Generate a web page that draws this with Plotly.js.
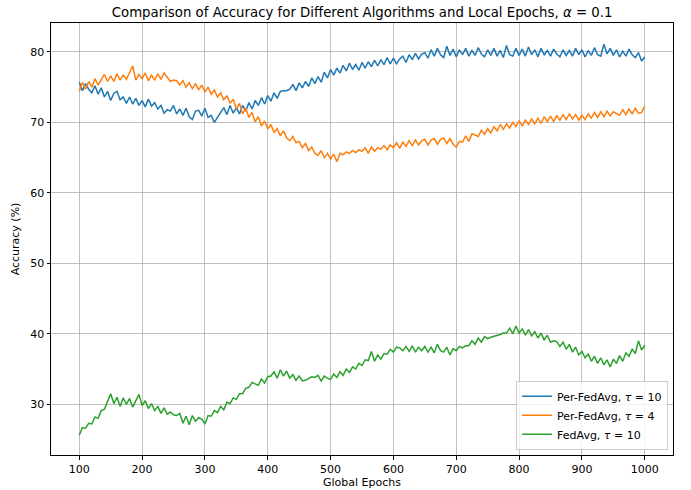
<!DOCTYPE html>
<html>
<head>
<meta charset="utf-8">
<script src="https://cdn.plot.ly/plotly-3.0.1.min.js"></script>
<style>html,body{margin:0;padding:0;background:#fff;}#chart{width:691px;height:490px;}</style>
</head>
<body>
<div id="chart"></div>
<script>
// Global epochs sampled every 5 epochs from 100 to 1000
const epochs = [];
for (let e = 100; e <= 1000; e += 5) epochs.push(e);

const perFedAvgTau10 = [
  75.7, 74.5, 75.5, 74.7, 74.2, 75.2, 74.0, 74.9, 73.6, 74.4,
  73.1, 74.1, 74.4, 73.2, 73.6, 72.7, 73.6, 72.6, 73.4, 72.4,
  73.1, 72.2, 73.3, 72.3, 72.8, 71.9, 72.4, 71.3, 71.8, 71.6,
  72.4, 71.2, 71.9, 71.0, 72.0, 70.8, 70.4, 71.6, 71.7, 70.9,
  72.0, 70.7, 71.0, 70.0, 70.7, 71.4, 72.1, 71.1, 72.4, 71.3,
  72.1, 71.2, 72.4, 71.6, 72.8, 71.9, 73.1, 72.4, 73.5, 72.6,
  73.8, 73.0, 74.2, 73.4, 74.4, 74.5, 74.5, 74.7, 75.4, 74.5,
  75.6, 74.9, 75.8, 75.1, 76.3, 75.5, 76.5, 75.7, 77.1, 76.3,
  77.5, 76.7, 77.7, 77.0, 78.1, 77.3, 78.4, 77.5, 78.2, 77.4,
  78.5, 77.7, 78.6, 77.9, 78.8, 78.0, 78.9, 78.2, 79.2, 78.3,
  79.1, 78.3, 79.0, 79.4, 78.5, 79.6, 78.9, 79.8, 79.0, 79.7,
  79.9, 79.1, 80.3, 79.4, 80.5, 79.6, 79.2, 80.8, 79.5, 80.4,
  79.3, 80.3, 79.6, 80.5, 79.4, 80.2, 79.5, 80.6, 79.7, 79.3,
  80.3, 79.5, 80.5, 79.4, 80.2, 79.2, 80.9, 79.6, 79.4, 80.5,
  79.5, 80.4, 79.4, 80.7, 79.6, 80.3, 79.3, 80.5, 79.6, 80.2,
  79.4, 80.4, 79.7, 79.3, 80.3, 79.5, 80.2, 79.4, 80.5, 79.6,
  80.3, 79.3, 80.2, 79.5, 80.6, 79.6, 79.4, 81.1, 79.7, 80.5,
  79.5, 80.3, 79.3, 80.1, 79.4, 80.4, 79.6, 79.2, 79.9, 78.7,
  79.3
];

const perFedAvgTau4 = [
  74.4, 75.7, 74.7, 75.8, 75.0, 76.2, 75.3, 76.1, 76.8, 75.8,
  76.6, 75.8, 76.9, 76.0, 76.7, 76.1, 77.0, 78.0, 76.0, 76.8,
  76.2, 77.0, 75.9, 76.7, 76.0, 76.9, 76.1, 77.0, 76.4, 75.8,
  76.0, 75.9, 75.3, 75.9, 75.0, 75.6, 74.8, 75.5, 74.6, 75.3,
  74.3, 75.0, 74.0, 74.6, 73.6, 74.2, 73.2, 73.8, 72.7, 73.3,
  71.9, 72.7, 71.2, 72.0, 70.7, 71.4, 70.1, 70.8, 69.5, 70.2,
  69.1, 69.7, 68.6, 69.1, 68.1, 68.8, 67.8, 67.4, 68.0, 67.1,
  67.3, 66.4, 67.0, 66.0, 66.5, 65.6, 65.3, 66.0, 65.0, 65.6,
  64.8, 65.5, 64.4, 65.6, 65.4, 65.8, 65.6, 66.0, 65.7, 66.1,
  65.9, 66.4, 65.6, 66.5, 65.9, 66.4, 66.2, 66.7, 66.1, 66.8,
  66.4, 67.1, 66.3, 67.2, 66.6, 67.4, 66.7, 67.5, 66.8, 67.4,
  67.6, 66.8, 67.5, 67.7, 66.9, 67.6, 67.8, 67.0, 67.7, 66.9,
  66.5, 67.3, 67.2, 68.1, 67.3, 68.4, 68.2, 68.0, 68.9, 68.3,
  69.1, 68.5, 69.4, 68.8, 69.7, 69.0, 69.8, 69.2, 70.0, 69.4,
  70.2, 69.5, 70.3, 69.7, 70.5, 69.8, 70.6, 69.9, 70.8, 70.1,
  70.9, 70.1, 71.0, 70.3, 71.1, 70.4, 71.2, 70.5, 71.1, 70.3,
  71.0, 70.4, 71.2, 70.6, 71.4, 70.7, 71.5, 70.8, 71.6, 70.9,
  71.5, 71.3, 71.0, 71.8, 71.1, 71.9, 71.2, 72.0, 71.3, 71.4,
  72.3
];

const fedAvgTau10 = [
  25.6, 26.7, 26.6, 27.3, 27.2, 28.2, 28.0, 29.1, 29.3, 30.5,
  31.5, 30.1, 31.0, 29.7, 30.9, 30.0, 30.8, 29.6, 30.6, 31.4,
  29.8, 30.5, 29.4, 30.1, 29.1, 29.7, 28.7, 29.5, 28.6, 28.9,
  28.5, 28.4, 28.7, 27.3, 28.3, 27.1, 28.4, 27.6, 28.1, 27.9,
  27.2, 28.4, 28.3, 29.1, 28.8, 29.7, 29.2, 30.3, 30.1, 30.9,
  30.7, 31.5, 31.5, 32.3, 32.4, 33.1, 32.9, 32.7, 33.6, 33.0,
  33.9, 34.0, 34.6, 33.7, 34.9, 34.0, 34.7, 33.7, 34.2, 33.4,
  34.0, 33.3, 33.4, 33.6, 33.9, 33.8, 34.1, 33.3, 34.0, 33.7,
  33.5, 34.3, 33.8, 34.6, 34.1, 35.0, 34.5, 35.3, 35.0, 35.8,
  35.5, 36.3, 36.2, 37.5, 36.1, 37.0, 36.4, 37.2, 37.1, 37.8,
  37.4, 38.1, 38.0, 37.6, 38.2, 37.5, 38.3, 37.4, 38.1, 37.6,
  38.2, 37.4, 38.1, 37.3, 38.5, 37.6, 37.4, 38.1, 37.0, 37.9,
  37.6, 38.2, 38.0, 38.3, 38.3, 39.0, 38.5, 39.4, 38.8, 39.6,
  39.3, 39.5, 39.6, 39.8, 39.9, 40.1, 40.1, 40.8, 40.0, 41.1,
  40.1, 40.7, 39.8, 40.6, 39.7, 40.3, 39.4, 40.1, 39.1, 39.8,
  38.8, 39.0, 38.9, 38.2, 38.8, 37.8, 38.5, 37.4, 38.1, 37.0,
  37.5, 36.6, 37.1, 36.1, 36.8, 35.8, 36.6, 35.6, 36.3, 35.3,
  36.4, 35.8, 36.9, 36.1, 37.3, 36.8, 37.8, 37.2, 39.0, 37.7,
  38.4
];

const seriesNames = ['Per-FedAvg, <i>τ</i> = 10', 'Per-FedAvg, <i>τ</i> = 4', 'FedAvg, <i>τ</i> = 10'];
const seriesColors = ['#1f77b4', '#ff7f0e', '#2ca02c'];
const xTicks = [100, 200, 300, 400, 500, 600, 700, 800, 900, 1000];
const yTicks = [30, 40, 50, 60, 70, 80];

const allSeries = [perFedAvgTau10, perFedAvgTau4, fedAvgTau10];
const traces = allSeries.map((ys, i) => ({
  x: epochs, y: ys, type: 'scatter', mode: 'lines',
  name: seriesNames[i],
  line: {color: seriesColors[i], width: 1.5}
}));

const font = {family: 'DejaVu Sans, sans-serif', size: 11, color: '#000'};
const layout = {
  width: 691, height: 490,
  margin: {l: 51, r: 18, t: 23, b: 35, pad: 0},
  paper_bgcolor: '#fff', plot_bgcolor: '#fff',
  font: font,
  showlegend: true,
  title: {text: 'Comparison of Accuracy for Different Algorithms and Local Epochs, <i>α</i> = 0.1',
          font: {family: 'DejaVu Sans, sans-serif', size: 13.3, color: '#000'},
          x: 0.524, xanchor: 'center', y: 0.975, yanchor: 'middle', yref: 'container'},
  xaxis: {
    range: [55, 1045], tickvals: xTicks, ticks: 'outside', ticklen: 3.5, tickwidth: 1, tickcolor: '#000',
    showline: true, mirror: true, linecolor: '#000', linewidth: 1,
    showgrid: true, gridcolor: '#b0b0b0', gridwidth: 0.8, zeroline: false,
    tickfont: font, automargin: false,
    title: {text: 'Global Epochs', font: font, standoff: 3}
  },
  yaxis: {
    range: [22.8, 84.1], tickvals: yTicks, ticks: 'outside', ticklen: 3.5, tickwidth: 1, tickcolor: '#000',
    showline: true, mirror: true, linecolor: '#000', linewidth: 1,
    showgrid: true, gridcolor: '#b0b0b0', gridwidth: 0.8, zeroline: false,
    tickfont: font, automargin: false,
    title: {text: 'Accuracy (%)', font: font, standoff: 8}
  },
  legend: {
    x: 0.992, y: 0.012, xanchor: 'right', yanchor: 'bottom',
    bgcolor: 'rgba(255,255,255,0.8)', bordercolor: '#cccccc', borderwidth: 1,
    font: font, tracegroupgap: 0, itemwidth: 30
  }
};

Plotly.newPlot('chart', traces, layout, {displayModeBar: false, staticPlot: true});
</script>
</body>
</html>
